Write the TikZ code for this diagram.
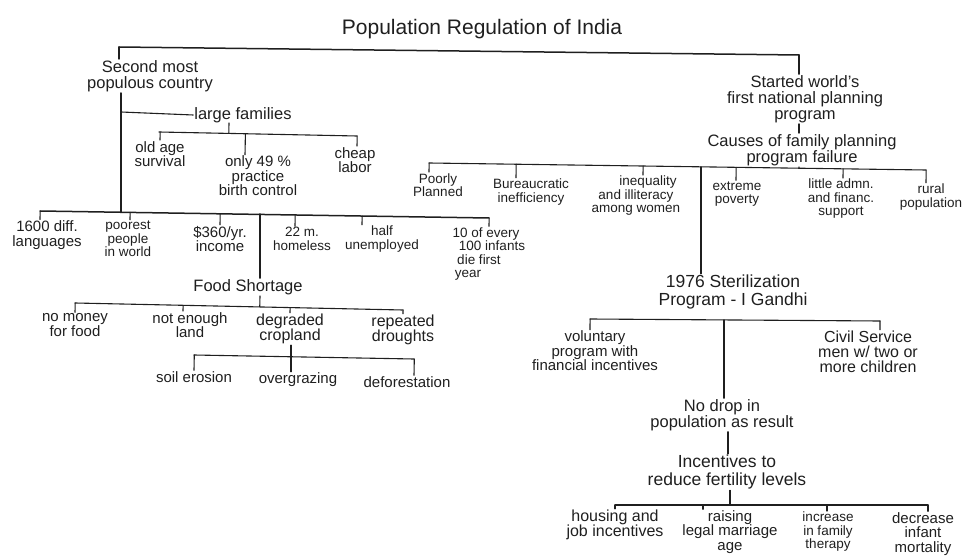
\documentclass[tikz,border=0pt]{standalone}
\usepackage{fontspec}
\setmainfont{Liberation Sans}
\usetikzlibrary{calc}
\tikzset{
  lab/.style={inner sep=1pt,align=center,text=black!88},
  titletxt/.style={lab,font=\fontsize{21}{24}\selectfont},
  hugetxt/.style={lab,font=\fontsize{17.5}{18}\selectfont},
  bigtxt/.style={lab,font=\fontsize{16.5}{16}\selectfont},
  widetxt/.style={lab,font=\fontsize{16}{15}\selectfont},
  midtxt/.style={lab,font=\fontsize{15}{14.5}\selectfont},
  smalltxt/.style={lab,font=\fontsize{13.5}{13.5}\selectfont},
  link/.style={draw=black!88,line width=1.5pt,line cap=round},
  thin link/.style={draw=black!88,line width=1.1pt,line cap=round}
}
% drop from the bar (a)--(b) to the top of node c, shifted by d
\newcommand{\dropto}[4]{\draw[thin link] ($(#1)!([xshift=#4]#3.north)!(#2)$) -- ([xshift=#4]#3.north);}
\begin{document}
\begin{tikzpicture}[x=1pt,y=-1pt]
\useasboundingbox (0,0) rectangle (969,556);
% ---------- text
\node[titletxt] (title) at (482,29) {Population Regulation of India};
\node[bigtxt] (second) at (150,76) {Second most\\populous country};
\node[bigtxt] (large) at (243,115) {large families};
\node[midtxt] (old) at (160,154) {old age\\survival};
\node[midtxt] (only) at (258,176) {only 49 \%\\practice\\birth control};
\node[midtxt] (cheap) at (355,160) {cheap\\labor};
\node[midtxt] (lang) at (47,235) {1600 diff.\\languages};
\node[smalltxt] (poor) at (128,239) {poorest\\people\\in world};
\node[midtxt] (income) at (220,239) {\$360/yr.\\income};
\node[smalltxt] (home) at (302,239) {22 m.\\homeless};
\node[smalltxt] (half) at (382,239) {half\hspace{28pt}\\unemployed};
\node[smalltxt] (infants) at (486,254) {10 of every\\\hspace{12pt}100 infants\\\hspace{-14pt}die first\\\hspace{-36pt}year};
\node[bigtxt] (food) at (248,287) {Food Shortage};
\node[midtxt] (money) at (75,325) {no money\\for food};
\node[midtxt] (enough) at (190,325) {not enough\\land};
\node[widetxt] (degraded) at (290,329) {degraded\\cropland};
\node[widetxt] (droughts) at (403,330) {repeated\\droughts};
\node[midtxt] (soil) at (194,377) {soil erosion};
\node[midtxt] (over) at (298,380) {overgrazing};
\node[midtxt] (defor) at (407,382) {deforestation};
\node[bigtxt] (started) at (805,99) {Started world's\\first national planning\\program};
\node[bigtxt] (causes) at (802,150) {Causes of family planning\\program failure};
\node[smalltxt] (poorly) at (438,185) {Poorly\\Planned};
\node[smalltxt] (bureau) at (531,192) {Bureaucratic\\inefficiency};
\node[smalltxt] (ineq) at (636,196) {\hspace{24pt}inequality\\and illiteracy\\among women};
\node[smalltxt] (extreme) at (737,194) {extreme\\poverty};
\node[smalltxt] (little) at (841,199) {little admn.\\and financ.\\support};
\node[smalltxt] (rural) at (931,197) {rural\\population};
\node[hugetxt] (steril) at (733,292) {1976 Sterilization\\Program - I Gandhi};
\node[midtxt] (vol) at (595,351) {voluntary\\program with\\financial incentives};
\node[widetxt] (civil) at (868,352) {Civil Service\\men w/ two or\\more children};
\node[bigtxt] (nodrop) at (722,415) {No drop in\\population as result};
\node[hugetxt] (incent) at (727,472) {Incentives to\\reduce fertility levels};
\node[widetxt] (housing) at (615,525) {housing and\\job incentives};
\node[midtxt] (raising) at (730,532) {raising\hspace{32pt}\\legal marriage\\age};
\node[smalltxt] (increase) at (828,532) {increase\\in family\\therapy};
\node[midtxt] (decrease) at (923,534) {decrease\\infant\\mortality};
% ---------- bar ends
\coordinate (topL) at (119,47);
\coordinate (topR) at (799,55);
\coordinate (famL) at (159,132);
\coordinate (famR) at (357,136);
\coordinate (mainL) at (40,211);
\coordinate (mainR) at (489,218);
\coordinate (spine) at (121,93);
\coordinate (spineEnd) at (121,212);
\coordinate (famJoin) at (121,112);
\coordinate (foodTop) at (260,214);
\coordinate (foodL) at (75,303);
\coordinate (foodR) at (403,310);
\coordinate (cropL) at (194,355);
\coordinate (cropR) at (414,359);
\coordinate (causeL) at (429,163);
\coordinate (causeR) at (926,170);
\coordinate (causeMid) at (701,167);
\coordinate (sterL) at (590,319);
\coordinate (sterR) at (880,321);
\coordinate (sterMid) at (724,320);
\coordinate (incL) at (615,505);
\coordinate (incR) at (928,505);
% ---------- top
\draw[link] (topL) -- (topR);
\draw[link] (topL) -- (119,59);
\draw[link] (topR) -- (started.north -| topR);
% ---------- left
\draw[link] (spine) -- (spineEnd);
\draw[thin link] (famJoin) -- (large.west);
\draw[thin link] (famL) -- (famR);
\draw[thin link] ($(famL)!(229,123)!(famR)$) -- (229,123);
\dropto{famL}{famR}{old}{0pt}
\dropto{famL}{famR}{only}{-13pt}
\dropto{famL}{famR}{cheap}{2pt}
\draw[link] (mainL) -- (mainR);
\dropto{mainL}{mainR}{lang}{-7pt}
\dropto{mainL}{mainR}{poor}{2pt}
\dropto{mainL}{mainR}{income}{0pt}
\dropto{mainL}{mainR}{home}{-7pt}
\dropto{mainL}{mainR}{half}{-20pt}
\dropto{mainL}{mainR}{infants}{3pt}
\draw[link] (foodTop) -- (food.north -| foodTop);
\draw[thin link] (foodL) -- (foodR);
\draw[thin link] ($(foodL)!(food.south -| foodTop)!(foodR)$) -- (food.south -| foodTop);
\dropto{foodL}{foodR}{money}{0pt}
\dropto{foodL}{foodR}{enough}{-7pt}
\dropto{foodL}{foodR}{degraded}{0pt}
\dropto{foodL}{foodR}{droughts}{0pt}
\draw[thin link] (degraded.south) ++(1pt,0) -- (over.north -| 291,0);
\draw[thin link] (cropL) -- (cropR);
\dropto{cropL}{cropR}{soil}{0pt}
\dropto{cropL}{cropR}{defor}{7pt}
% ---------- right
\draw[thin link] (started.south -| topR) -- (causes.north -| topR);
\draw[thin link] (causeL) -- (causeR);
\draw[thin link] (causes.south -| topR) -- ($(causeL)!(causes.south -| topR)!(causeR)$);
\dropto{causeL}{causeR}{poorly}{-9pt}
\dropto{causeL}{causeR}{bureau}{-15pt}
\dropto{causeL}{causeR}{ineq}{7pt}
\dropto{causeL}{causeR}{extreme}{-1pt}
\dropto{causeL}{causeR}{little}{2pt}
\dropto{causeL}{causeR}{rural}{-5pt}
\draw[link] (causeMid) -- (steril.north -| causeMid);
\draw[thin link] (sterL) -- (sterR);
\dropto{sterL}{sterR}{vol}{-5pt}
\dropto{sterL}{sterR}{civil}{12pt}
\draw[link] (sterMid) -- (nodrop.north -| sterMid);
\draw[link] (nodrop.south -| 728,0) -- (incent.north -| 728,0);
\draw[thin link] (incL) -- (incR);
\draw[thin link] (incent.south -| 730,0) -- (730,505);
\dropto{incL}{incR}{housing}{0pt}
\dropto{incL}{incR}{raising}{-27pt}
\dropto{incL}{incR}{increase}{-1pt}
\dropto{incL}{incR}{decrease}{5pt}
\end{tikzpicture}
\end{document}
